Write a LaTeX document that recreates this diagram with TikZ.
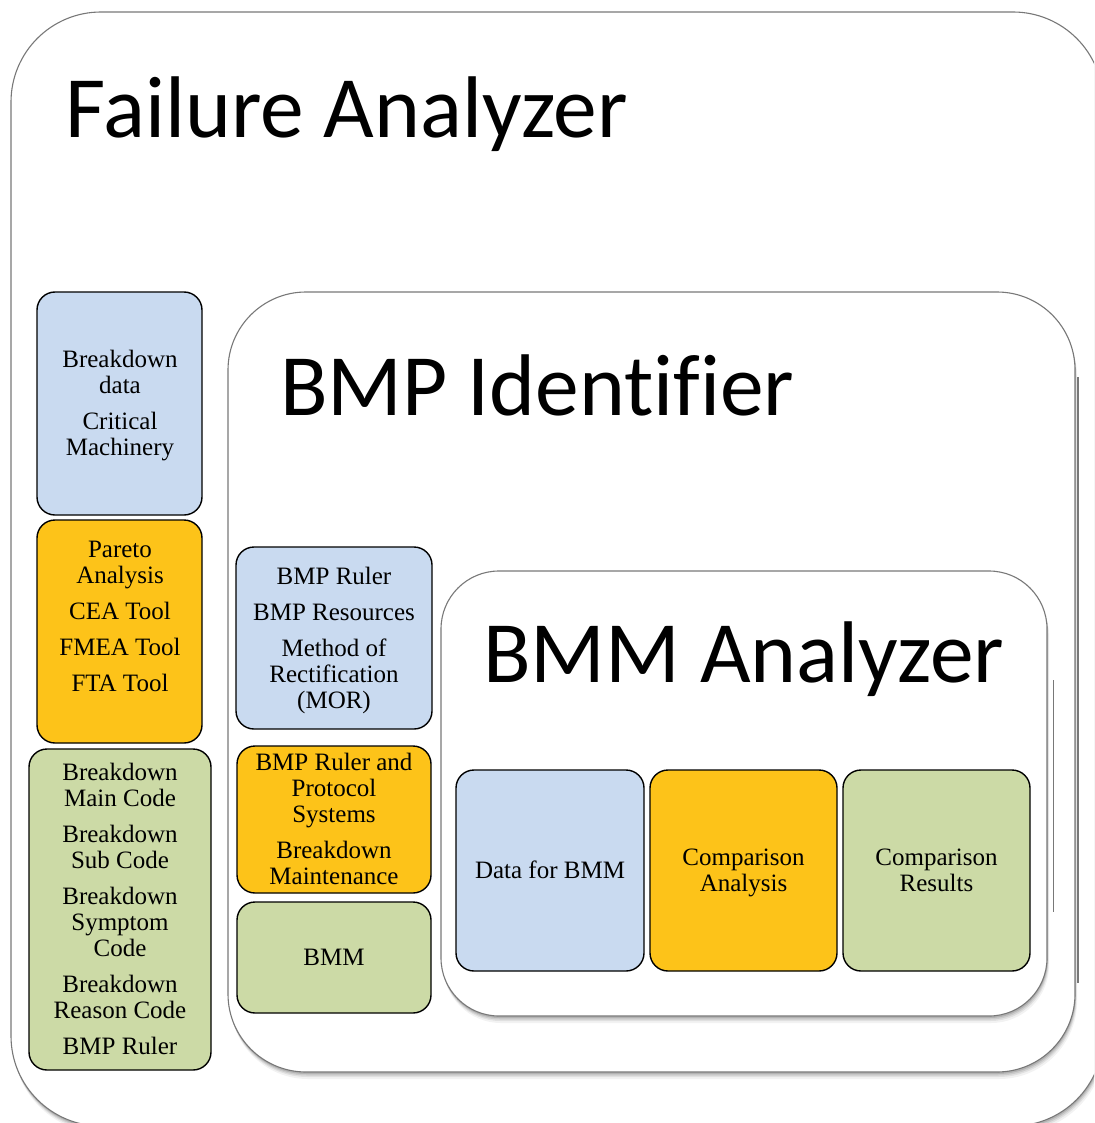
\documentclass[tikz,border=0pt]{standalone}
\usepackage{fontspec}
\setmainfont{Liberation Serif}
\newfontfamily\titlefont[Ligatures=CommonOff]{Carlito}
\definecolor{cblue}{RGB}{201,218,240}
\definecolor{corange}{RGB}{253,195,25}
\definecolor{cgreen}{RGB}{204,218,166}
\definecolor{cframe}{RGB}{120,120,120}
\newcommand\softshade[5]{%
  \foreach \o/\op in {7/0.05,5/0.07,3.5/0.09,2/0.12}{%
    \fill[black,opacity=\op,rounded corners=#5] (#1+\o*0.3,#2+\o) rectangle (#3+\o*0.3,#4+\o);}}
\begin{document}
\begin{tikzpicture}[x=1pt,y=-1pt,
  item/.style={draw=black, line width=1.4pt, rounded corners=18pt, inner sep=0pt, rectangle},
  frame/.style={draw=cframe, line width=1.1pt, fill=white, inner sep=0pt, rectangle},
  txt/.style={font=\fontsize{25}{26}\selectfont, align=center, inner sep=0pt, anchor=north},
  ttl/.style={font=\titlefont\fontsize{87.5}{91}\selectfont, inner sep=0pt, anchor=base west}]
\useasboundingbox (0,0) rectangle (1094,1123);
\clip (0,0) rectangle (1094,1123);
\fill[white] (0,0) rectangle (1094,1123);

% outer container
\softshade{11}{12}{1103}{1126}{90pt}
\node[frame, rounded corners=90pt, minimum width=1092pt, minimum height=1114pt] (fa) at (557,569) {};
\node[ttl] (fat) at (65,138) {Failure Analyzer};

% BMP Identifier container
\softshade{228}{292}{1075}{1072}{78pt}
\node[frame, rounded corners=78pt, minimum width=847pt, minimum height=780pt] (bi) at (651.5,682) {};
\node[ttl] (bit) at (280,415) {BMP Identifier};

% BMM Analyzer container
\softshade{441}{571}{1047}{1016}{58pt}
\node[frame, rounded corners=58pt, minimum width=606pt, minimum height=445pt] (ba) at (744,793.5) {};
\node[ttl] (bat) at (483,682) {BMM Analyzer};

% artifact lines
\draw[cframe, line width=1.2pt] (1078,377) -- (1078,983);
\draw[cframe, line width=1pt] (1053,680) -- (1053,912);

% left column
\node[item, fill=cblue, minimum width=165pt, minimum height=223pt] (lb) at (119.5,403.5) {};
\node[txt] (lbt) at (120,349) {\rule{0pt}{18pt}Breakdown\\data\\[10pt]Critical\\Machinery};
\node[item, fill=corange, minimum width=165pt, minimum height=223pt] (lo) at (119.5,631.5) {};
\node[txt] (lot) at (120,539) {\rule{0pt}{18pt}Pareto\\Analysis\\[10pt]CEA Tool\\[10pt]FMEA Tool\\[10pt]FTA Tool};
\node[item, fill=cgreen, minimum width=182pt, minimum height=321pt] (lg) at (120,909.5) {};
\node[txt] (lgt) at (120,762) {\rule{0pt}{18pt}Breakdown\\Main Code\\[10pt]Breakdown\\Sub Code\\[10pt]Breakdown\\Symptom\\Code\\[10pt]Breakdown\\Reason Code\\[10pt]BMP Ruler};

% middle column
\node[item, fill=cblue, minimum width=196pt, minimum height=182pt] (mb) at (334,638) {};
\node[txt] (mbt) at (334,566) {\rule{0pt}{18pt}BMP Ruler\\[10pt]BMP Resources\\[10pt]Method of\\Rectification\\(MOR)};
\node[item, fill=corange, minimum width=194pt, minimum height=147pt] (mo) at (334,819.5) {};
\node[txt] (mot) at (334,752) {\rule{0pt}{18pt}BMP Ruler and\\Protocol\\Systems\\[10pt]Breakdown\\Maintenance};
\node[item, fill=cgreen, minimum width=194pt, minimum height=111pt] (mg) at (334,957.5) {};
\node[txt] (mgt) at (334,947) {\rule{0pt}{18pt}BMM};

% BMM analyzer items
\node[item, fill=cblue, minimum width=188pt, minimum height=201pt] (ib) at (550,870.5) {};
\node[txt] (ibt) at (550,860) {\rule{0pt}{18pt}Data for BMM};
\node[item, fill=corange, minimum width=187pt, minimum height=201pt] (io) at (743.5,870.5) {};
\node[txt] (iot) at (743.5,847) {\rule{0pt}{18pt}Comparison\\Analysis};
\node[item, fill=cgreen, minimum width=187pt, minimum height=201pt] (ig) at (936.5,870.5) {};
\node[txt] (igt) at (936.5,847) {\rule{0pt}{18pt}Comparison\\Results};
\end{tikzpicture}
\end{document}
